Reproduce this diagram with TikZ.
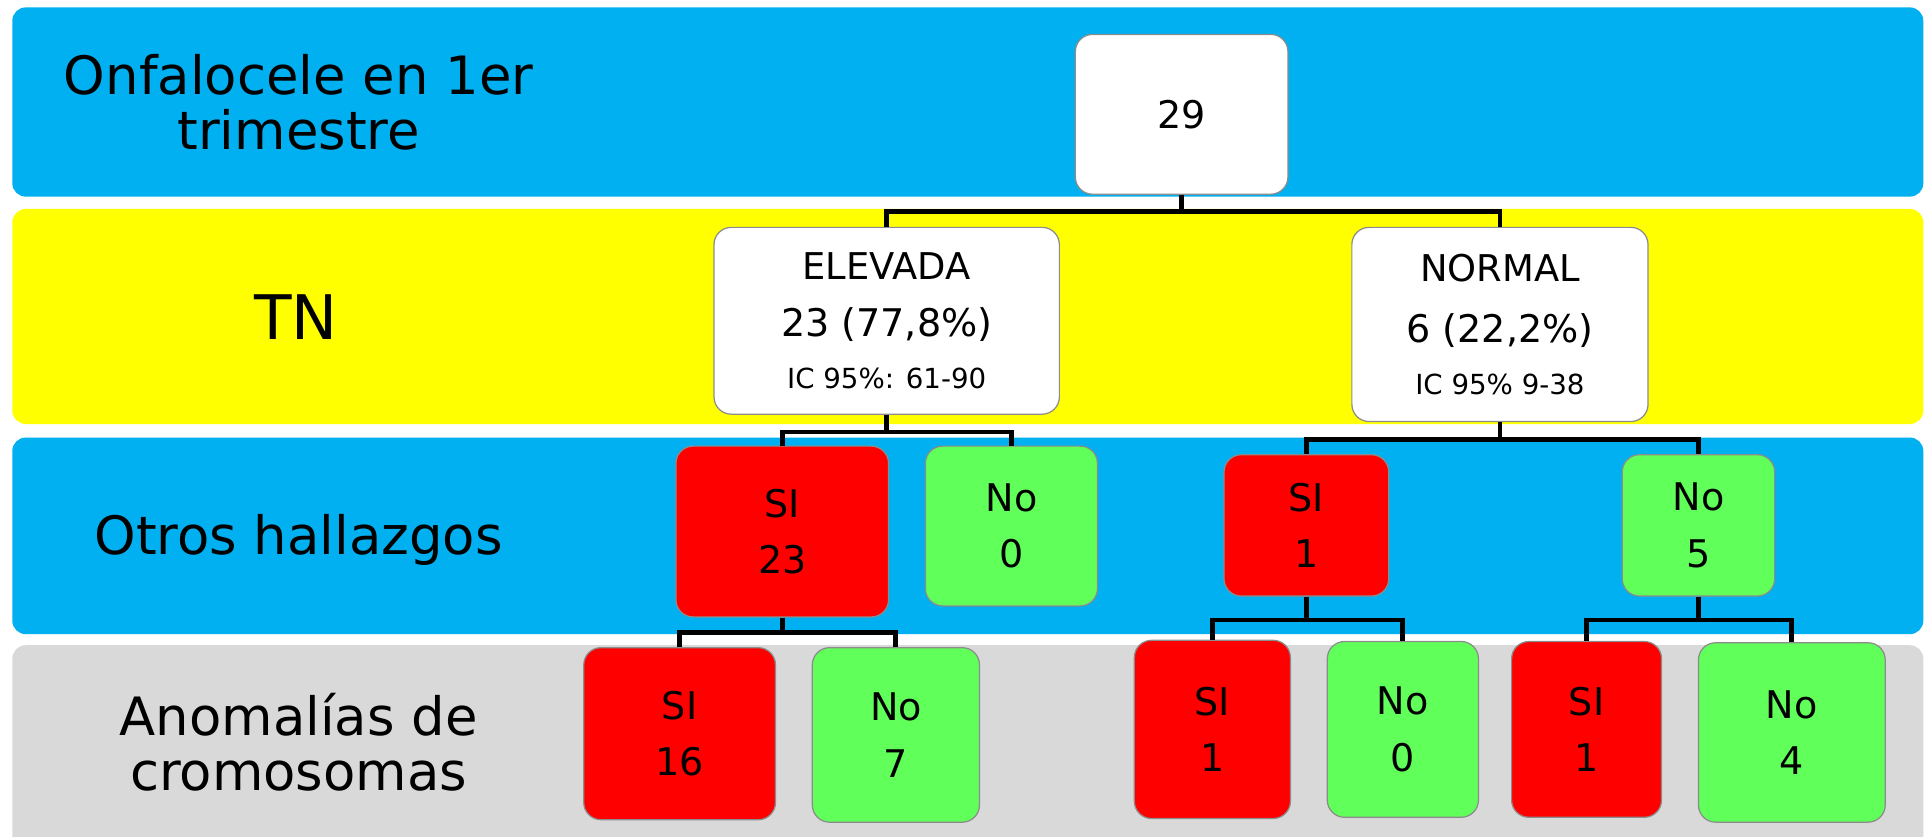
\documentclass[tikz,border=0pt]{standalone}
\usepackage{fontspec}
\setmainfont{DejaVu Sans}
\usetikzlibrary{calc}
\definecolor{bandblue}{HTML}{00B0F0}
\definecolor{bandyellow}{HTML}{FFFF00}
\definecolor{bandgray}{HTML}{D9D9D9}
\definecolor{boxred}{HTML}{FF0000}
\definecolor{boxgreen}{HTML}{60FF5A}
\definecolor{boxborder}{HTML}{8C8C8C}
\begin{document}
\begin{tikzpicture}[x=1pt,y=-1pt,
  band/.style={rounded corners=11},
  box/.style={draw=boxborder, line width=1pt, rounded corners=14, inner sep=0pt, align=center, font=\fontsize{31}{46}\selectfont},
  wbox/.style={box, fill=white},
  rbox/.style={box, fill=boxred},
  gbox/.style={box, fill=boxgreen},
  conn/.style={line width=4pt, black},
  lbl/.style={align=center, inner sep=0pt, font=\fontsize{43}{45}\selectfont}]
\useasboundingbox (0,0) rectangle (1568,681);
% bands
\fill[band, bandblue] (10,6) rectangle (1565,160);
\fill[band, bandyellow] (10,170) rectangle (1565,345);
\fill[band, bandblue] (10,356) rectangle (1565,516);
\begin{scope}
\clip (0,0) rectangle (1568,681);
\fill[band, bandgray] (10,525) rectangle (1565,720);
\end{scope}
% row labels
\node[lbl] (l1) at (243,83) {Onfalocele en 1er\\trimestre};
\node[lbl, font=\fontsize{50}{50}\selectfont] (l2) at (241,258) {TN};
\node[lbl] (l3) at (243,439) {Otros hallazgos};
\node[lbl] (l4) at (243,604) {Anomalías de\\cromosomas};
% boxes
\node[wbox, minimum width=173, minimum height=130] (root) at (961.5,93) {29};
\node[wbox, minimum width=281, minimum height=152] (elev) at (721.5,261)
  {{\fontsize{30}{46}\selectfont ELEVADA}\\23 (77,8\%)\\[-4pt]{\fontsize{22.5}{46}\selectfont IC 95\%: 61-90}};
\node[wbox, minimum width=241, minimum height=158] (norm) at (1220.5,264)
  {{\fontsize{30}{46}\selectfont NORMAL}\\[4pt]6 (22,2\%)\\[-4pt]{\fontsize{22.5}{46}\selectfont IC 95\% 9-38}};
\node[rbox, minimum width=173, minimum height=139] (si1) at (636.5,432.5) {SI\\23};
\node[gbox, minimum width=140, minimum height=130] (no1) at (823,428) {No\\0};
\node[rbox, minimum width=134, minimum height=115] (si2) at (1063,427.5) {SI\\1};
\node[gbox, minimum width=124, minimum height=115] (no2) at (1382,427.5) {No\\5};
\node[rbox, minimum width=156, minimum height=140] (si3) at (553,597) {SI\\16};
\node[gbox, minimum width=136, minimum height=142] (no3) at (729,598) {No\\7};
\node[rbox, minimum width=127, minimum height=145] (si4) at (986.5,593.5) {SI\\1};
\node[gbox, minimum width=123, minimum height=143] (no4) at (1141.5,593.5) {No\\0};
\node[rbox, minimum width=122, minimum height=143] (si5) at (1291,593.5) {SI\\1};
\node[gbox, minimum width=152, minimum height=146] (no5) at (1458,596) {No\\4};
% connectors
\draw[conn] (root.south) -- ++(0,13.5) coordinate (j0) -| (elev.north);
\draw[conn] (j0) -| (norm.north);
\draw[conn] (elev.south) -- ++(0,14) coordinate (j1) -| (si1.north);
\draw[conn] (j1) -| (no1.north);
\draw[conn] (norm.south) -- ++(0,14) coordinate (j2) -| (si2.north);
\draw[conn] (j2) -| (no2.north);
\draw[conn] (si1.south) -- ++(0,12) coordinate (j3) -| (si3.north);
\draw[conn] (j3) -| (no3.north);
\draw[conn] (si2.south) -- ++(0,19) coordinate (j4) -| (si4.north);
\draw[conn] (j4) -| (no4.north);
\draw[conn] (no2.south) -- ++(0,19) coordinate (j5) -| (si5.north);
\draw[conn] (j5) -| (no5.north);
\end{tikzpicture}
\end{document}
